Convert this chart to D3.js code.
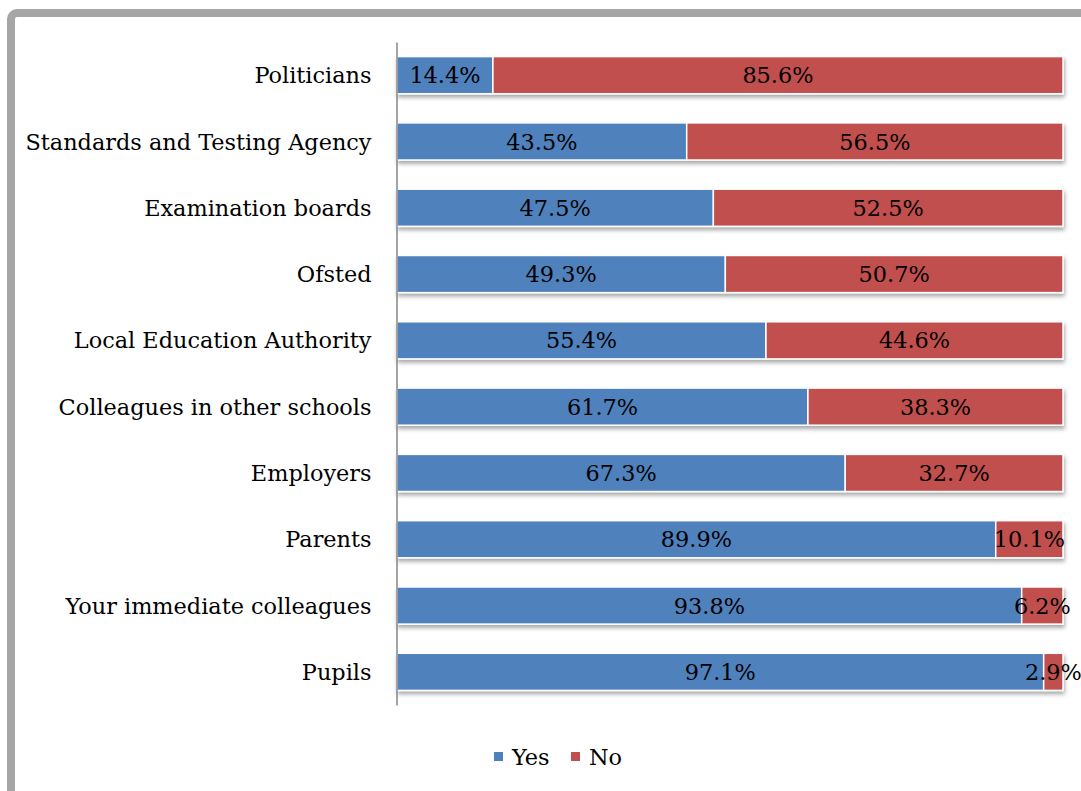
<!DOCTYPE html>
<html><head><meta charset="utf-8">
<script src="https://cdn.jsdelivr.net/npm/d3@7"></script>
<style>html,body{margin:0;padding:0;background:#fff;}svg{display:block;}</style>
</head><body>
<svg id="c" width="1081" height="791"></svg>
<script>
const categories = ["Politicians","Standards and Testing Agency","Examination boards","Ofsted","Local Education Authority","Colleagues in other schools","Employers","Parents","Your immediate colleagues","Pupils"];
const yesValues = [14.4,43.5,47.5,49.3,55.4,61.7,67.3,89.9,93.8,97.1];
const noValues = [85.6,56.5,52.5,50.7,44.6,38.3,32.7,10.1,6.2,2.9];
const seriesNames = ["Yes","No"];
const colors = ["#4F81BD","#C0504D"];

const svg = d3.select("#c");
const font = "DejaVu Serif";
const fs = 22.4;

// frame
svg.append("rect").attr("x",11).attr("y",13).attr("width",1200).attr("height",1000)
  .attr("rx",6).attr("fill","none").attr("stroke","#a6a6a6").attr("stroke-width",8);

const defs = svg.append("defs");
const f = defs.append("filter").attr("id","sh").attr("x","-5%").attr("y","-30%").attr("width","110%").attr("height","180%");
f.append("feDropShadow").attr("dx",1).attr("dy",3).attr("stdDeviation",2).attr("flood-color","#000").attr("flood-opacity",0.35);

const x = d3.scaleLinear().domain([0,100]).range([397,1063]);
const y = d3.scaleBand().domain(categories).range([42,705]).paddingInner(0.44).paddingOuter(0.22);

const data = categories.map((c,i)=>({cat:c, segs:[
  {s:0, x0:0, x1:yesValues[i], v:yesValues[i]},
  {s:1, x0:yesValues[i], x1:yesValues[i]+noValues[i], v:noValues[i]}]}));

const rows = svg.append("g").selectAll("g").data(data).join("g");
rows.append("g").attr("filter","url(#sh)").selectAll("rect").data(d=>d.segs.map(s=>({...s,cat:d.cat}))).join("rect")
  .attr("x",d=>x(d.x0)).attr("width",d=>x(d.x1)-x(d.x0))
  .attr("y",d=>y(d.cat)).attr("height",y.bandwidth())
  .attr("fill",d=>colors[d.s]).attr("stroke","#fff").attr("stroke-width",1.5);

rows.selectAll("text.v").data(d=>d.segs.map(s=>({...s,cat:d.cat}))).join("text").attr("class","v")
  .attr("x",d=>(x(d.x0)+x(d.x1))/2).attr("y",d=>y(d.cat)+y.bandwidth()/2)
  .attr("dy","0.36em").attr("text-anchor","middle")
  .attr("font-family",font).attr("font-size",fs).attr("fill","#000")
  .text(d=>d.v.toFixed(1)+"%");

// axis
const yAxis = d3.axisLeft(y).tickSize(0).tickPadding(25);
const ag = svg.append("g").attr("transform","translate(396.5,0)").call(yAxis);
ag.select(".domain").attr("stroke","#868686").attr("stroke-width",1.5);
ag.selectAll("text").attr("font-family",font).attr("font-size",fs).attr("fill","#000").attr("dy","0.36em");

// legend
const lg = svg.append("g");
const items = [{n:"Yes",x:494},{n:"No",x:571}];
items.forEach((it,i)=>{
  lg.append("rect").attr("x",it.x).attr("y",752).attr("width",9).attr("height",9).attr("fill",colors[i]);
  lg.append("text").attr("x",it.x+18).attr("y",757).attr("dy","0.36em").attr("font-family",font).attr("font-size",fs).text(seriesNames[i]);
});
</script>
</body></html>
